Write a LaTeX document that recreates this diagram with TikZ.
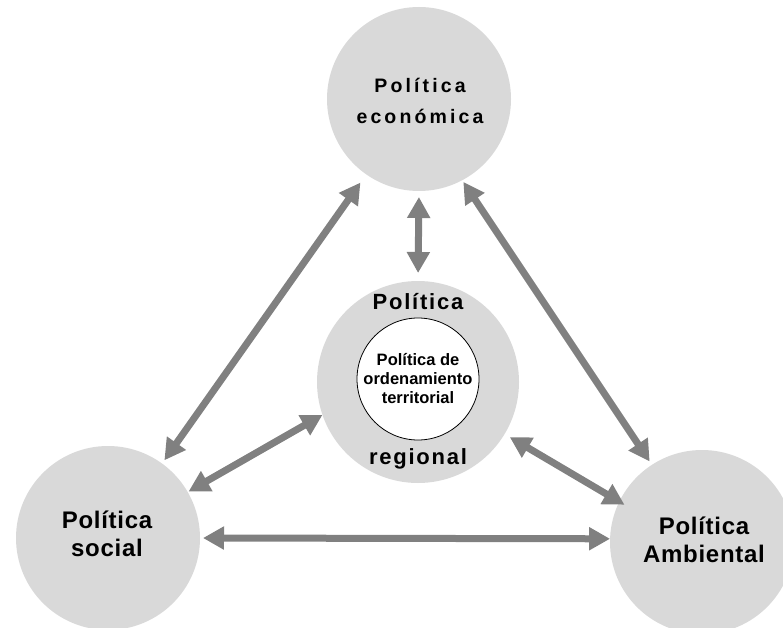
\documentclass[tikz,border=0pt]{standalone}
\usepackage{fontspec}
\setmainfont{Liberation Sans}
\newfontfamily\ecofont[LetterSpace=16]{Liberation Sans}
\newfontfamily\regfont[LetterSpace=8]{Liberation Sans}
\newfontfamily\sidefont[LetterSpace=3]{Liberation Sans}
\usepackage{tikz}
\usetikzlibrary{arrows.meta}

\definecolor{circgray}{RGB}{217,217,217}
\definecolor{arrowgray}{RGB}{128,128,128}

\begin{document}
\begin{tikzpicture}[x=1pt, y=-1pt,
  polcircle/.style={circle, fill=circgray, inner sep=0pt, outer sep=0pt},
  link/.style={draw=arrowgray, line width=7pt, {Triangle[length=21pt,width=22pt]}-{Triangle[length=21pt,width=22pt]}},
  ecolabel/.style={align=center, font=\ecofont\bfseries\fontsize{19.5}{31}\selectfont},
  reglabel/.style={font=\regfont\bfseries\fontsize{22}{26}\selectfont},
  ordlabel/.style={align=center, font=\bfseries\fontsize{16.5}{19}\selectfont},
  sidelabel/.style={align=center, font=\sidefont\bfseries\fontsize{24}{28}\selectfont}]

\useasboundingbox (0,0) rectangle (783,628);
\clip (0,0) rectangle (783,628);

% CIRCLES %%%%%%%%%%%%%%%%%%%%%%%%%%%%%%%%%%%%%%%%%%%%%%%%%%%%%%%%%%%%%%%%

\node[polcircle, minimum size=184pt] (eco) at (419,99) {};
\node[polcircle, minimum size=202pt] (reg) at (418,382) {};
\node[circle, draw=black, line width=0.8pt, fill=white, minimum size=122pt, inner sep=0pt] (ord) at (418,379) {};
\node[polcircle, minimum size=184pt] (soc) at (108,538) {};
\node[polcircle, minimum size=184pt] (amb) at (702,542) {};

% LABELS %%%%%%%%%%%%%%%%%%%%%%%%%%%%%%%%%%%%%%%%%%%%%%%%%%%%%%%%%%%%%%%%%

\node[ecolabel] (ecotxt) at (420,101) {Política\\económica};
\node[reglabel, anchor=base] (regtop) at (418,309) {Política};
\node[reglabel, anchor=base] (regbot) at (418,464) {regional};
\node[ordlabel] (ordtxt) at (418,379) {Política de\\ordenamiento\\territorial};
\node[sidelabel] (soctxt) at (107,534) {Política\\social};
\node[sidelabel] (ambtxt) at (704,540) {Política\\Ambiental};

% LINKS %%%%%%%%%%%%%%%%%%%%%%%%%%%%%%%%%%%%%%%%%%%%%%%%%%%%%%%%%%%%%%%%%%

\draw[link, shorten <=6pt, shorten >=8pt] (eco.270) -- (reg.90);
\draw[link, shorten <=4pt, shorten >=10pt] (soc.54) -- (eco.235);
\draw[link, shorten <=2pt, shorten >=4pt] (eco.298) -- (amb.123);
\draw[link, shorten <=1pt] (soc.30) -- (reg.199);
\draw[link, shorten <=6pt, shorten >=-6pt] (reg.329) -- (amb.154);
\draw[link, shorten <=3pt] (soc.0) -- (amb.178);

\end{tikzpicture}
\end{document}
